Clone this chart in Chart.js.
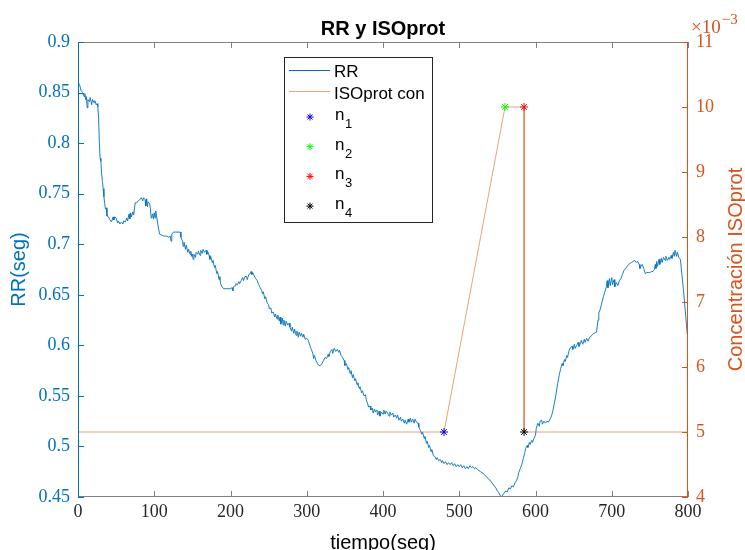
<!DOCTYPE html>
<html>
<head>
<meta charset="utf-8">
<script src="https://cdn.jsdelivr.net/npm/chart.js@4.4.1/dist/chart.umd.min.js"></script>
<style>
  html, body { margin: 0; padding: 0; background: #fff; }
  #chart { display: block; }
</style>
</head>
<body>
<canvas id="chart" width="745" height="550"></canvas>
<script>
// ── Data ──
var xTicks = [0, 100, 200, 300, 400, 500, 600, 700, 800];
var rrTicks = [0.45, 0.5, 0.55, 0.6, 0.65, 0.7, 0.75, 0.8, 0.85, 0.9];
var isoTicks = [0.004, 0.005, 0.006, 0.007, 0.008, 0.009, 0.010, 0.011];

var rrTime = [0,2,4,6,8,9,10,11,12,13,15,16,18,19,21,22,24,25,26,27,28,29,30,31,32,33,34,35,36,37,38,40,42,44,46,47,48,50,52,53,55,57,59,60,62,64,65,67,68,69,70,72,73,75,77,79,81,83,85,86,88,89,90,91,92,94,95,96,97,98,99,100,101,102,103,105,107,110,113,116,119,121,122,123,125,128,131,134,135,137,138,139,141,142,144,145,147,148,149,150,151,152,154,155,157,158,160,161,163,164,166,168,169,170,172,173,174,176,177,179,180,182,183,185,186,187,189,191,194,197,200,202,203,204,206,207,209,211,212,214,216,217,219,221,222,224,226,227,228,229,231,233,235,237,239,241,242,243,245,246,248,250,251,253,254,256,258,259,261,262,264,265,266,268,269,270,272,273,275,277,278,280,281,283,284,286,287,289,290,292,293,295,296,298,300,302,304,306,308,309,310,312,314,316,318,320,322,324,326,328,329,331,333,334,336,338,340,342,343,345,347,349,350,352,354,355,357,358,360,361,363,364,366,367,369,370,372,373,375,377,378,380,381,383,384,386,387,389,390,392,393,395,396,398,400,401,403,404,406,408,409,411,413,414,416,418,419,421,423,424,426,428,429,431,433,434,436,437,439,441,442,444,446,447,449,451,452,454,455,457,458,460,461,463,464,466,468,470,471,473,475,477,478,480,482,484,486,488,490,492,494,496,498,500,502,504,506,508,510,512,514,516,518,520,522,524,526,528,530,532,534,536,538,540,542,544,546,548,550,552,554,555,557,559,561,563,565,567,569,571,573,575,577,578,580,582,584,586,587,589,590,592,593,595,596,598,600,601,603,605,606,608,609,611,613,615,617,619,621,623,625,627,629,631,633,635,636,638,639,641,642,644,646,648,649,651,652,654,656,657,659,660,662,664,665,667,669,671,673,675,677,680,682,683,685,687,689,691,693,694,695,697,698,700,701,703,704,706,708,710,712,714,716,718,720,722,724,726,728,730,732,734,736,737,738,740,742,744,746,748,750,752,754,756,757,758,759,760,762,763,765,766,768,770,771,773,775,776,778,779,781,782,783,785,786,788,790,792,794,796,798,799];
var rrValue = [0.860,0.858,0.852,0.850,0.846,0.849,0.843,0.846,0.835,0.843,0.841,0.845,0.838,0.843,0.840,0.842,0.838,0.839,0.836,0.825,0.800,0.785,0.782,0.770,0.762,0.755,0.747,0.740,0.735,0.736,0.728,0.727,0.724,0.722,0.727,0.724,0.727,0.726,0.721,0.723,0.720,0.722,0.720,0.723,0.722,0.726,0.723,0.730,0.725,0.731,0.727,0.732,0.729,0.741,0.741,0.743,0.744,0.746,0.743,0.746,0.744,0.738,0.745,0.737,0.742,0.740,0.735,0.726,0.728,0.730,0.725,0.731,0.726,0.733,0.728,0.718,0.710,0.709,0.708,0.708,0.707,0.708,0.703,0.710,0.712,0.712,0.712,0.712,0.707,0.703,0.698,0.702,0.695,0.699,0.692,0.695,0.690,0.693,0.688,0.690,0.685,0.690,0.687,0.692,0.690,0.693,0.689,0.694,0.691,0.695,0.692,0.694,0.690,0.693,0.689,0.685,0.688,0.682,0.684,0.677,0.679,0.671,0.673,0.665,0.668,0.661,0.658,0.656,0.656,0.656,0.656,0.657,0.654,0.658,0.659,0.661,0.660,0.663,0.661,0.664,0.667,0.664,0.668,0.668,0.665,0.670,0.671,0.673,0.670,0.672,0.669,0.666,0.664,0.660,0.657,0.654,0.651,0.653,0.646,0.648,0.642,0.640,0.636,0.637,0.632,0.633,0.628,0.631,0.626,0.630,0.624,0.628,0.621,0.627,0.620,0.625,0.619,0.624,0.620,0.622,0.618,0.614,0.618,0.612,0.616,0.610,0.614,0.608,0.613,0.609,0.612,0.608,0.611,0.606,0.607,0.605,0.600,0.596,0.592,0.587,0.590,0.585,0.582,0.580,0.580,0.582,0.585,0.588,0.587,0.591,0.589,0.594,0.596,0.592,0.597,0.594,0.596,0.593,0.595,0.590,0.588,0.585,0.580,0.582,0.576,0.578,0.572,0.575,0.568,0.571,0.565,0.567,0.561,0.563,0.557,0.559,0.553,0.555,0.550,0.551,0.546,0.542,0.539,0.540,0.536,0.538,0.533,0.537,0.534,0.536,0.531,0.535,0.530,0.534,0.532,0.536,0.532,0.535,0.533,0.530,0.534,0.531,0.533,0.529,0.531,0.528,0.531,0.526,0.529,0.525,0.527,0.523,0.526,0.522,0.527,0.524,0.528,0.524,0.527,0.523,0.527,0.524,0.523,0.519,0.516,0.512,0.514,0.508,0.510,0.503,0.505,0.499,0.501,0.495,0.497,0.491,0.490,0.487,0.489,0.486,0.487,0.484,0.486,0.483,0.485,0.482,0.484,0.482,0.484,0.481,0.483,0.480,0.482,0.480,0.482,0.479,0.481,0.478,0.480,0.478,0.481,0.479,0.480,0.478,0.479,0.477,0.476,0.475,0.474,0.473,0.471,0.470,0.468,0.467,0.465,0.463,0.461,0.459,0.456,0.454,0.451,0.449,0.452,0.454,0.456,0.455,0.459,0.458,0.461,0.460,0.464,0.466,0.470,0.474,0.478,0.482,0.488,0.494,0.498,0.501,0.499,0.504,0.502,0.506,0.504,0.508,0.511,0.518,0.523,0.520,0.525,0.526,0.522,0.525,0.523,0.525,0.524,0.527,0.530,0.536,0.544,0.552,0.562,0.570,0.577,0.582,0.580,0.586,0.584,0.590,0.588,0.595,0.598,0.599,0.596,0.601,0.597,0.600,0.603,0.599,0.602,0.605,0.601,0.606,0.603,0.607,0.604,0.608,0.609,0.611,0.612,0.613,0.625,0.632,0.636,0.642,0.648,0.653,0.658,0.664,0.657,0.666,0.659,0.667,0.660,0.665,0.658,0.662,0.659,0.664,0.666,0.670,0.674,0.676,0.678,0.680,0.681,0.682,0.683,0.684,0.682,0.683,0.680,0.676,0.678,0.680,0.676,0.671,0.672,0.672,0.672,0.673,0.673,0.675,0.680,0.676,0.683,0.678,0.685,0.680,0.686,0.682,0.687,0.684,0.688,0.684,0.687,0.685,0.689,0.686,0.692,0.688,0.694,0.688,0.692,0.687,0.685,0.670,0.655,0.638,0.620,0.611];

// ISOprot concentration (right axis)
var isoTime = [0, 480, 560, 585, 585, 800];
var isoConc = [0.005, 0.005, 0.010, 0.010, 0.005, 0.005];

// marked points n1..n4
var markNames = ["1", "2", "3", "4"];
var markTime = [480, 560, 585, 585];
var markConc = [0.005, 0.010, 0.010, 0.005];
var markColors = ["#0000FF", "#00FF00", "#FF0000", "#000000"];

var BLUE = "#0072BD", ORANGE = "#D95319", ORANGE_LINE = "rgba(217,83,25,0.55)";
var SERIF = "'Liberation Serif', 'DejaVu Serif', serif";
var SANS = "'Liberation Sans', Arial, sans-serif";

function pairs(xs, ys) {
  return xs.map(function (x, i) { return { x: x, y: ys[i] }; });
}

var datasets = [];
markTime.forEach(function (t, i) {
  datasets.push({
    label: "n" + markNames[i],
    data: [{ x: t, y: markConc[i] }],
    yAxisID: "y2",
    showLine: false,
    pointStyle: "star",
    pointRadius: 4,
    pointBorderWidth: 1,
    borderColor: markColors[i],
    backgroundColor: markColors[i],
    order: 1
  });
});
datasets.push({
  label: "ISOprot con",
  data: pairs(isoTime, isoConc),
  yAxisID: "y2",
  borderColor: ORANGE_LINE,
  borderWidth: 1,
  pointRadius: 0,
  tension: 0,
  order: 2
});
datasets.push({
  label: "RR",
  data: pairs(rrTime, rrValue),
  yAxisID: "y",
  borderColor: "rgba(0,114,189,0.9)",
  borderWidth: 1,
  pointRadius: 0,
  tension: 0,
  order: 3
});

function setTicks(list) {
  return function (scale) { scale.ticks = list.map(function (v) { return { value: v }; }); };
}

function star(ctx, x, y, r, color) {
  ctx.save();
  ctx.strokeStyle = color;
  ctx.lineWidth = 1;
  ctx.beginPath();
  for (var k = 0; k < 4; k++) {
    var a = k * Math.PI / 4;
    ctx.moveTo(x - Math.cos(a) * r, y - Math.sin(a) * r);
    ctx.lineTo(x + Math.cos(a) * r, y + Math.sin(a) * r);
  }
  ctx.stroke();
  ctx.restore();
}

// ── Frame, inward ticks, titles and legend (MATLAB look) ──
var decor = {
  id: "decor",
  afterDatasetsDraw: function (chart) {
    var ctx = chart.ctx, a = chart.chartArea;
    var sx = chart.scales.x, sy = chart.scales.y, s2 = chart.scales.y2;
    var L = a.left, R = a.right, T = a.top, B = a.bottom, tk = 6;
    ctx.save();
    ctx.lineWidth = 1;

    // top / bottom border with ticks
    ctx.strokeStyle = "#808080";
    ctx.beginPath();
    ctx.moveTo(L, T + 0.5); ctx.lineTo(R, T + 0.5);
    ctx.moveTo(L, B - 0.5); ctx.lineTo(R, B - 0.5);
    xTicks.forEach(function (v) {
      var px = Math.round(sx.getPixelForValue(v)) + 0.5;
      ctx.moveTo(px, B); ctx.lineTo(px, B - tk);
      ctx.moveTo(px, T); ctx.lineTo(px, T + tk);
    });
    ctx.stroke();

    // left axis
    ctx.strokeStyle = BLUE;
    ctx.beginPath();
    ctx.moveTo(L + 0.5, T); ctx.lineTo(L + 0.5, B);
    rrTicks.forEach(function (v) {
      var py = Math.round(sy.getPixelForValue(v)) + 0.5;
      ctx.moveTo(L, py); ctx.lineTo(L + tk, py);
    });
    ctx.stroke();

    // right axis
    ctx.strokeStyle = ORANGE;
    ctx.beginPath();
    ctx.moveTo(R - 0.5, T); ctx.lineTo(R - 0.5, B);
    isoTicks.forEach(function (v) {
      var py = Math.round(s2.getPixelForValue(v)) + 0.5;
      ctx.moveTo(R, py); ctx.lineTo(R - tk, py);
    });
    ctx.stroke();

    // title
    ctx.fillStyle = "#000";
    ctx.font = "bold 20px " + SANS;
    ctx.textAlign = "center";
    ctx.textBaseline = "alphabetic";
    ctx.fillText("RR y ISOprot", (L + R) / 2, 35);

    // x title
    ctx.font = "20px " + SANS;
    ctx.fillText("tiempo(seg)", (L + R) / 2, 549);

    // y titles
    var cy = (T + B) / 2;
    ctx.save();
    ctx.translate(25, cy);
    ctx.rotate(-Math.PI / 2);
    ctx.fillStyle = BLUE;
    ctx.fillText("RR(seg)", 0, 0);
    ctx.restore();

    ctx.save();
    ctx.translate(742, cy);
    ctx.rotate(-Math.PI / 2);
    ctx.fillStyle = ORANGE;
    ctx.fillText("Concentración ISOprot", 0, 0);
    ctx.restore();

    // exponent
    ctx.fillStyle = ORANGE;
    ctx.textAlign = "left";
    ctx.font = "19px " + SERIF;
    ctx.fillText("\u00d710", 691, 33);
    var w = ctx.measureText("\u00d710").width;
    ctx.font = "15px " + SERIF;
    ctx.fillText("\u22123", 691 + w + 1, 24);

    // legend box
    var lx = 284.5, ly = 57.5, lw = 148, lh = 165;
    ctx.fillStyle = "#fff";
    ctx.fillRect(lx, ly, lw, lh);
    ctx.strokeStyle = "#262626";
    ctx.strokeRect(lx, ly, lw, lh);

    ctx.font = "17px " + SANS;
    ctx.textBaseline = "middle";
    ctx.fillStyle = "#000";
    ctx.strokeStyle = BLUE;
    ctx.beginPath(); ctx.moveTo(289, 70.5); ctx.lineTo(330, 70.5); ctx.stroke();
    ctx.fillText("RR", 334, 72);
    ctx.strokeStyle = ORANGE_LINE;
    ctx.beginPath(); ctx.moveTo(289, 91.5); ctx.lineTo(330, 91.5); ctx.stroke();
    ctx.fillText("ISOprot con", 334, 94);

    ctx.textBaseline = "alphabetic";
    markNames.forEach(function (nm, i) {
      var my = 117 + i * 29.7;
      star(ctx, 310, my, 3.5, markColors[i]);
      ctx.fillStyle = "#000";
      ctx.font = "17px " + SANS;
      ctx.fillText("n", 335, my + 3);
      ctx.font = "13px " + SANS;
      ctx.fillText(nm, 345, my + 11);
    });

    ctx.restore();
  }
};

new Chart(document.getElementById("chart"), {
  type: "line",
  data: { datasets: datasets },
  options: {
    responsive: false,
    animation: false,
    devicePixelRatio: 1,
    layout: { padding: { top: 42, left: 0, right: 0, bottom: 0 } },
    plugins: { legend: { display: false }, tooltip: { enabled: false }, title: { display: false } },
    scales: {
      x: {
        type: "linear", min: 0, max: 800,
        afterBuildTicks: setTicks(xTicks),
        afterFit: function (s) { s.height = 53; },
        grid: { display: false, drawTicks: false },
        border: { display: false },
        ticks: { color: "#262626", padding: 4, maxRotation: 0, font: { family: SERIF, size: 18 } }
      },
      y: {
        type: "linear", position: "left", min: 0.45, max: 0.9,
        afterBuildTicks: setTicks(rrTicks),
        afterFit: function (s) { s.width = 78; },
        grid: { display: false, drawTicks: false },
        border: { display: false },
        ticks: {
          color: BLUE, padding: 8, font: { family: SERIF, size: 18 },
          callback: function (v) { return String(parseFloat(v.toFixed(2))); }
        }
      },
      y2: {
        type: "linear", position: "right", min: 0.004, max: 0.011,
        afterBuildTicks: setTicks(isoTicks),
        afterFit: function (s) { s.width = 57; },
        grid: { display: false, drawTicks: false },
        border: { display: false },
        ticks: {
          color: ORANGE, padding: 8, font: { family: SERIF, size: 18 },
          callback: function (v) { return String(Math.round(v * 1000)); }
        }
      }
    }
  },
  plugins: [decor]
});
</script>
</body>
</html>
